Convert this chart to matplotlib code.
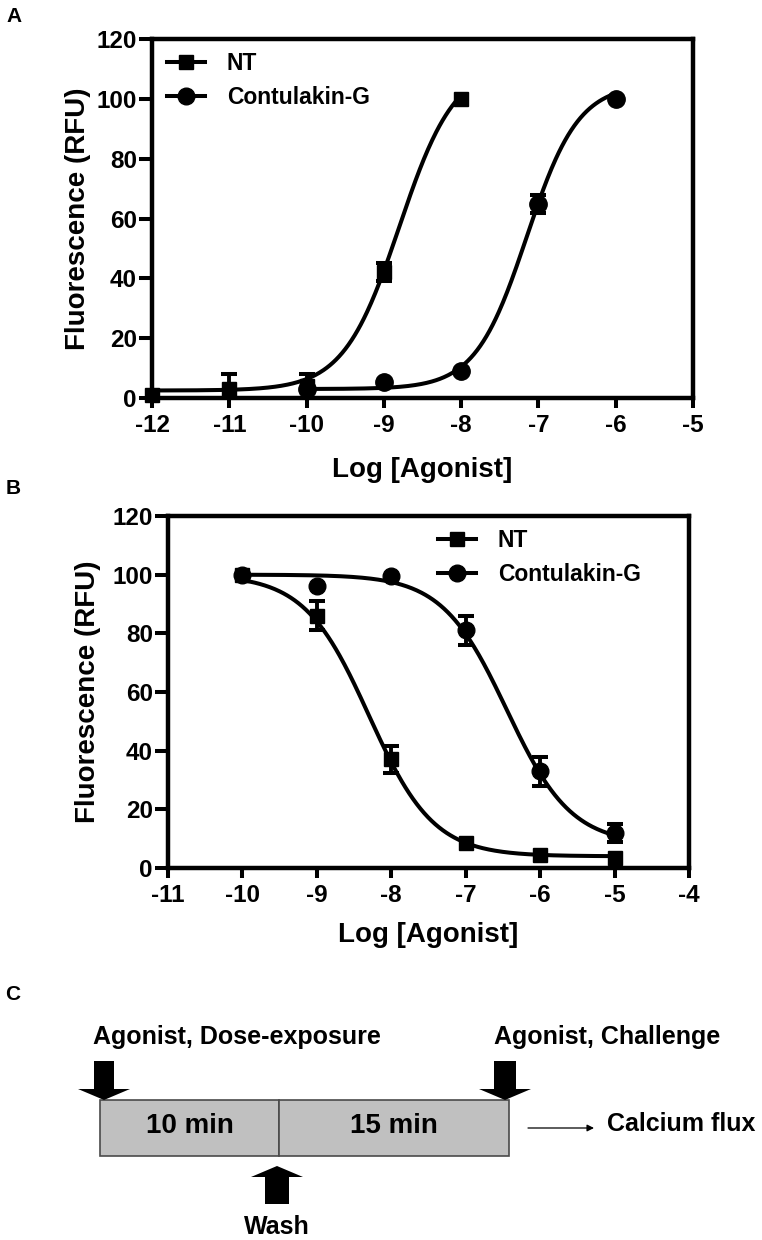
import numpy as np
import matplotlib
matplotlib.use("Agg")
import matplotlib.pyplot as plt
from matplotlib.lines import Line2D
from matplotlib.patches import Rectangle

plt.rcParams['font.family'] = ['Liberation Sans', 'DejaVu Sans']
plt.rcParams['font.weight'] = 'bold'
plt.rcParams['axes.unicode_minus'] = False

# ---- data ----
# panel A: dose-response
a_nt_x = [-12, -11, -10, -9, -8]
a_nt_y = [1, 3, 4, 42, 100]
a_nt_err = [0, 5, 4, 3, 0]
a_cg_x = [-10, -9, -8, -7, -6]
a_cg_y = [3, 5.5, 9, 65, 100]
a_cg_err = [0, 0, 0, 3, 0]
# 4PL fit: bottom, top, logEC50, hill
a_nt_fit = [2.5, 112, -8.8, 1.2]
a_cg_fit = [3, 105, -7.15, 1.3]

# panel B: desensitisation
b_x = [-10, -9, -8, -7, -6, -5]
b_nt_y = [100, 86, 37, 8.5, 4.5, 3.5]
b_nt_err = [0, 5, 4.5, 0, 0, 0]
b_cg_y = [100, 96, 99.5, 81, 33, 12]
b_cg_err = [0, 0, 0, 5, 5, 3]
b_nt_fit = [4, 100, -8.3, -1.0]
b_cg_fit = [8, 100, -6.45, -1.0]

series_names = ['NT', 'Contulakin-G']
a_xticks = [-12, -11, -10, -9, -8, -7, -6, -5]
b_xticks = [-11, -10, -9, -8, -7, -6, -5, -4]
yticks = [0, 20, 40, 60, 80, 100, 120]

# panel C: protocol
segments = ['10 min', '15 min']
seg_edges = [100, 279, 509]


def four_pl(x, p):
    bottom, top, logec50, hill = p
    return bottom + (top - bottom) / (1 + 10 ** ((logec50 - x) * hill))


def draw_series(ax, x, y, err, fit, marker, ms):
    x = np.array(x, float)
    y = np.array(y, float)
    err = np.array(err, float)
    xs = np.linspace(x.min(), x.max(), 300)
    ax.plot(xs, four_pl(xs, fit), color='black', lw=2.9, zorder=2)
    m = err > 0
    ax.errorbar(x[m], y[m], yerr=err[m], fmt='none', ecolor='black',
                elinewidth=2.8, capsize=6, capthick=2.9, zorder=3)
    ax.plot(x, y, linestyle='none', marker=marker, ms=ms, color='black',
            clip_on=False, zorder=4)


def style_axes(ax, xticks, ylabel_x, xlabel_y):
    ax.set_xlim(xticks[0], xticks[-1])
    ax.set_ylim(0, 120)
    ax.set_xticks(xticks)
    ax.set_yticks(yticks)
    for s in ax.spines.values():
        s.set_linewidth(3.2)
    ax.tick_params(axis='x', length=7.2, width=2.9, pad=4.5, labelsize=17.5)
    ax.tick_params(axis='y', length=9.4, width=2.9, pad=1.5, labelsize=17.5)
    ax.set_xlabel('Log [Agonist]', fontsize=20, fontweight='bold')
    ax.set_ylabel('Fluorescence (RFU)', fontsize=20, fontweight='bold')
    ax.xaxis.set_label_coords(0.5, xlabel_y)
    ax.yaxis.set_label_coords(ylabel_x, 0.5)


def add_legend(ax, anchor):
    handles = [Line2D([], [], color='black', lw=2.9, marker='s', ms=10.5),
               Line2D([], [], color='black', lw=2.9, marker='o', ms=12)]
    ax.legend(handles, series_names, loc='upper left', bbox_to_anchor=anchor,
              frameon=False, fontsize=16.5, handlelength=1.66,
              handletextpad=0.95, labelspacing=0.5, borderpad=0,
              borderaxespad=0)


W, H = 762, 1240
fig = plt.figure(figsize=(W / 100, H / 100), dpi=100)

# panel A
axA = fig.add_axes([152 / W, 1 - 398 / H, 541 / W, 359 / H])
draw_series(axA, a_nt_x, a_nt_y, a_nt_err, a_nt_fit, 's', 10.5)
draw_series(axA, a_cg_x, a_cg_y, a_cg_err, a_cg_fit, 'o', 12.5)
style_axes(axA, a_xticks, -0.113, -0.164)
add_legend(axA, (0.028, 0.965))

# panel B
axB = fig.add_axes([168 / W, 1 - 868 / H, 521 / W, 352 / H])
draw_series(axB, b_x, b_nt_y, b_nt_err, b_nt_fit, 's', 10.5)
draw_series(axB, b_x, b_cg_y, b_cg_err, b_cg_fit, 'o', 12)
style_axes(axB, b_xticks, -0.129, -0.153)
add_legend(axB, (0.518, 0.963))

# panel C: schematic drawn in pixel-like units
axC = fig.add_axes([0, 0, 1, 265 / H])
axC.set_xlim(0, W)
axC.set_ylim(H, H - 265)
axC.axis('off')

box_top, box_bot = 1100, 1156
for i, lab in enumerate(segments):
    x0, x1 = seg_edges[i], seg_edges[i + 1]
    axC.add_patch(Rectangle((x0, box_top), x1 - x0, box_bot - box_top,
                            facecolor='#c0c0c0', edgecolor='#4a4a4a', lw=1.2))
    axC.text((x0 + x1) / 2, 1126, lab, ha='center', va='center',
             fontsize=20, fontweight='bold')

arrow_kw = dict(length_includes_head=True, head_length=11, head_width=52,
                color='black', lw=0)
axC.arrow(104, 1061, 0, 39, width=20, **arrow_kw)
axC.arrow(505, 1061, 0, 39, width=22, **arrow_kw)
axC.arrow(277, 1204, 0, -38, width=24, **arrow_kw)

axC.text(237, 1037, 'Agonist, Dose-exposure', ha='center', va='center',
         fontsize=18, fontweight='bold')
axC.text(607, 1037, 'Agonist, Challenge', ha='center', va='center',
         fontsize=18, fontweight='bold')
axC.text(277, 1227, 'Wash', ha='center', va='center',
         fontsize=18, fontweight='bold')
axC.annotate('', xy=(594, 1128), xytext=(528, 1128),
             arrowprops=dict(arrowstyle='-|>', lw=0.9, color='black',
                             mutation_scale=10, shrinkA=0, shrinkB=0))
axC.text(607, 1124, 'Calcium flux', ha='left', va='center',
         fontsize=18, fontweight='bold')

# panel letters
for lab, (px, py) in zip('ABC', [(14, 16), (13, 488), (13, 995)]):
    fig.text(px / W, 1 - py / H, lab, ha='center', va='center',
             fontsize=15, fontweight='bold')

fig.savefig('out.png', dpi=100)
